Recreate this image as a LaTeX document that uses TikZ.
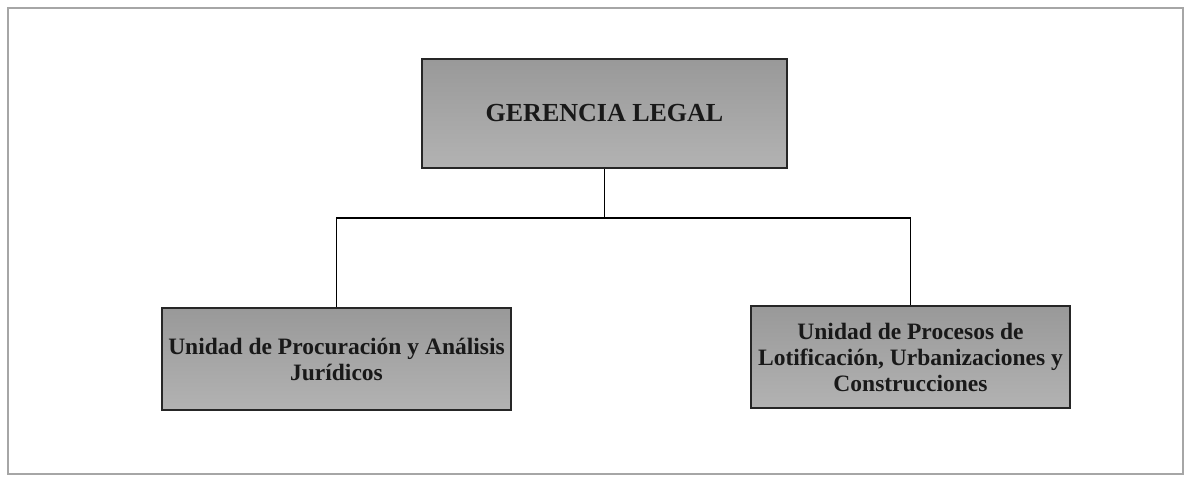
\documentclass[tikz,border=0pt]{standalone}
\usepackage{fontspec}
\setmainfont{Liberation Serif}
\begin{document}
\begin{tikzpicture}[x=1pt,y=1pt,
  unitbox/.style={draw=black!85, line width=1.2pt, top color=black!40, bottom color=black!30,
    align=center, font=\bfseries, inner sep=0pt, text=black!90},
  link/.style={draw=black, line width=1.3pt}]
\useasboundingbox (0,0) rectangle (1187,-484);
\fill[white] (0,0) rectangle (1187,-484);
\draw[black!35, line width=1.5pt] (8,-8) rectangle (1183,-474);
\node[unitbox, minimum width=365pt, minimum height=109pt, font=\bfseries\fontsize{26}{30}\selectfont] (top) at (604.5,-113.5) {GERENCIA LEGAL};
\node[unitbox, minimum width=349pt, minimum height=102pt, font=\bfseries\fontsize{23.5}{26}\selectfont] (left) at (336.5,-359) {Unidad de Procuración y Análisis\\Jurídicos};
\node[unitbox, minimum width=319pt, minimum height=102pt, font=\bfseries\fontsize{23.5}{26}\selectfont] (right) at (910.5,-357) {Unidad de Procesos de\\Lotificación, Urbanizaciones y\\Construcciones};
\coordinate (bus) at (top.south |- 0,-218);
\draw[link] (top.south) -- (bus);
\draw[link] (bus) -| (left.north);
\draw[link] (bus) -| (right.north);
\end{tikzpicture}
\end{document}
